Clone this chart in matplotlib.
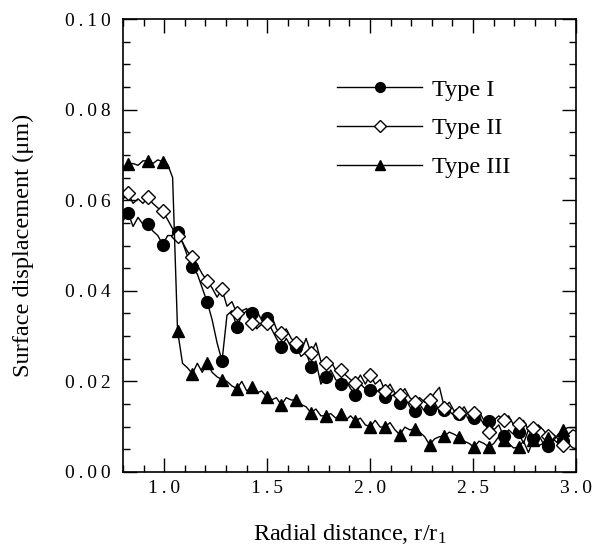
import numpy as np
import matplotlib
matplotlib.use("Agg")
import matplotlib.pyplot as plt
from matplotlib.ticker import MultipleLocator, FuncFormatter

plt.rcParams["font.family"] = ["Liberation Serif", "DejaVu Serif"]
plt.rcParams["mathtext.fontset"] = "custom"
plt.rcParams["mathtext.rm"] = "Liberation Serif"
plt.rcParams["mathtext.it"] = "Liberation Serif"

# radial positions of the sampled points (r/r1)
r = [0.801, 0.825, 0.849, 0.873, 0.897, 0.921, 0.945, 0.969, 0.993, 1.017,
     1.041, 1.065, 1.089, 1.113, 1.137, 1.161, 1.185, 1.209, 1.233, 1.257,
     1.281, 1.305, 1.329, 1.353, 1.377, 1.401, 1.425, 1.449, 1.473, 1.497,
     1.521, 1.545, 1.569, 1.593, 1.617, 1.641, 1.665, 1.689, 1.713, 1.737,
     1.761, 1.785, 1.809, 1.833, 1.857, 1.881, 1.905, 1.929, 1.953, 1.977,
     2.001, 2.025, 2.049, 2.073, 2.097, 2.121, 2.145, 2.169, 2.193, 2.217,
     2.241, 2.265, 2.289, 2.313, 2.337, 2.361, 2.385, 2.409, 2.433, 2.457,
     2.481, 2.505, 2.529, 2.553, 2.577, 2.601, 2.625, 2.649, 2.673, 2.697,
     2.721, 2.745, 2.769, 2.793, 2.817, 2.841, 2.865, 2.889, 2.913, 2.937,
     2.961, 2.985, 3.009]

type1 = [0.0555, 0.0572, 0.0542, 0.0562, 0.0547, 0.0548, 0.0532, 0.0522, 0.0502, 0.0522,
         0.0522, 0.0529, 0.0507, 0.0477, 0.0452, 0.0437, 0.0406, 0.0375, 0.0336, 0.0285,
         0.0245, 0.0346, 0.0356, 0.0320, 0.0346, 0.0356, 0.0351, 0.0316, 0.0326, 0.0341,
         0.0316, 0.0295, 0.0276, 0.0295, 0.0275, 0.0277, 0.0255, 0.0265, 0.0232, 0.0245,
         0.0194, 0.0210, 0.0225, 0.0204, 0.0194, 0.0204, 0.0184, 0.0170, 0.0194, 0.0184,
         0.0181, 0.0174, 0.0184, 0.0166, 0.0164, 0.0174, 0.0153, 0.0164, 0.0144, 0.0134,
         0.0149, 0.0134, 0.0139, 0.0154, 0.0134, 0.0137, 0.0134, 0.0124, 0.0129, 0.0134,
         0.0114, 0.0119, 0.0124, 0.0104, 0.0113, 0.0093, 0.0104, 0.0079, 0.0093, 0.0083,
         0.0088, 0.0063, 0.0093, 0.0075, 0.0083, 0.0063, 0.0058, 0.0073, 0.0063, 0.0068,
         0.0083, 0.0093, 0.0088]

type2 = [0.0603, 0.0615, 0.0593, 0.0603, 0.0593, 0.0606, 0.0593, 0.0583, 0.0576, 0.0557,
         0.0537, 0.0520, 0.0507, 0.0487, 0.0474, 0.0457, 0.0437, 0.0422, 0.0406, 0.0386,
         0.0403, 0.0366, 0.0376, 0.0351, 0.0356, 0.0361, 0.0329, 0.0356, 0.0336, 0.0329,
         0.0346, 0.0316, 0.0306, 0.0316, 0.0295, 0.0285, 0.0265, 0.0295, 0.0263, 0.0285,
         0.0245, 0.0241, 0.0245, 0.0225, 0.0225, 0.0214, 0.0204, 0.0196, 0.0214, 0.0194,
         0.0214, 0.0194, 0.0204, 0.0179, 0.0194, 0.0174, 0.0170, 0.0184, 0.0164, 0.0155,
         0.0164, 0.0154, 0.0159, 0.0174, 0.0187, 0.0142, 0.0154, 0.0134, 0.0131, 0.0144,
         0.0124, 0.0131, 0.0134, 0.0114, 0.0088, 0.0114, 0.0124, 0.0115, 0.0124, 0.0104,
         0.0107, 0.0114, 0.0093, 0.0097, 0.0104, 0.0093, 0.0079, 0.0083, 0.0073, 0.0060,
         0.0063, 0.0053, 0.0051]

type3 = [0.0674, 0.0679, 0.0681, 0.0677, 0.0687, 0.0687, 0.0681, 0.0689, 0.0685, 0.0679,
         0.0650, 0.0312, 0.0240, 0.0230, 0.0217, 0.0240, 0.0220, 0.0241, 0.0220, 0.0210,
         0.0204, 0.0200, 0.0190, 0.0184, 0.0200, 0.0179, 0.0187, 0.0174, 0.0179, 0.0166,
         0.0159, 0.0164, 0.0148, 0.0164, 0.0159, 0.0159, 0.0149, 0.0144, 0.0131, 0.0139,
         0.0124, 0.0124, 0.0129, 0.0119, 0.0128, 0.0114, 0.0124, 0.0113, 0.0119, 0.0104,
         0.0100, 0.0114, 0.0099, 0.0100, 0.0109, 0.0093, 0.0082, 0.0099, 0.0093, 0.0095,
         0.0088, 0.0078, 0.0060, 0.0073, 0.0078, 0.0079, 0.0088, 0.0083, 0.0077, 0.0068,
         0.0063, 0.0055, 0.0068, 0.0063, 0.0055, 0.0063, 0.0078, 0.0071, 0.0063, 0.0053,
         0.0055, 0.0068, 0.0043, 0.0071, 0.0058, 0.0063, 0.0075, 0.0068, 0.0083, 0.0093,
         0.0098, 0.0098, 0.0098]

labels = ["Type I", "Type II", "Type III"]

# indices of the points that carry a symbol
marks = [1] + list(range(5, 90, 3))


def spaced(fmt):
    # the original tick labels are letter-spaced
    return FuncFormatter(lambda v, pos: "\u2009".join(fmt % v))


def figureSettings():
    fig = plt.figure(figsize=(5.93, 5.56), dpi=100)
    ax = fig.add_axes([0.2074, 0.1511, 0.7639, 0.8147])

    ax.set_xlim(0.8, 3.0)
    ax.set_ylim(0.0, 0.10)
    ax.xaxis.set_major_locator(MultipleLocator(0.5))
    ax.xaxis.set_minor_locator(MultipleLocator(0.1))
    ax.yaxis.set_major_locator(MultipleLocator(0.02))
    ax.yaxis.set_minor_locator(MultipleLocator(0.005))
    ax.xaxis.set_major_formatter(spaced("%.1f"))
    ax.yaxis.set_major_formatter(spaced("%.2f"))

    ax.tick_params(which="both", direction="in", top=True, right=True,
                   labelsize=14, width=1.0)
    ax.tick_params(which="major", length=10)
    ax.tick_params(axis="y", which="major", pad=9)
    ax.tick_params(axis="x", which="major", pad=6)
    ax.tick_params(which="minor", length=5)
    for sp in ax.spines.values():
        sp.set_linewidth(1.2)

    ax.set_xlabel("Radial distance, r/r$_1$", fontsize=17.5, labelpad=18)
    ax.set_ylabel("Surface displacement (\u03bcm)", fontsize=17.5, labelpad=22)
    return fig, ax


def plotCurves():
    fig, ax = figureSettings()
    ax.plot(r, type1, color="black", lw=1.0, marker="o", ms=8.5,
            mfc="black", mec="black", markevery=marks, label=labels[0])
    ax.plot(r, type2, color="black", lw=1.0, marker="D", ms=7,
            mfc="white", mec="black", mew=1.0, markevery=marks, label=labels[1])
    ax.plot(r, type3, color="black", lw=1.0, marker="^", ms=8.5,
            mfc="black", mec="black", markevery=marks, label=labels[2])

    leg = ax.legend(loc="upper left", bbox_to_anchor=(0.425, 0.916), frameon=False,
                    fontsize=17.5, handlelength=3.5, labelspacing=0.68,
                    handletextpad=0.4)
    for h, s in zip(leg.legend_handles, [7, 6, 7.5]):
        h.set_markersize(s)
    return fig


if __name__ == "__main__":
    fig = plotCurves()
    fig.savefig("out.png", dpi=100)
